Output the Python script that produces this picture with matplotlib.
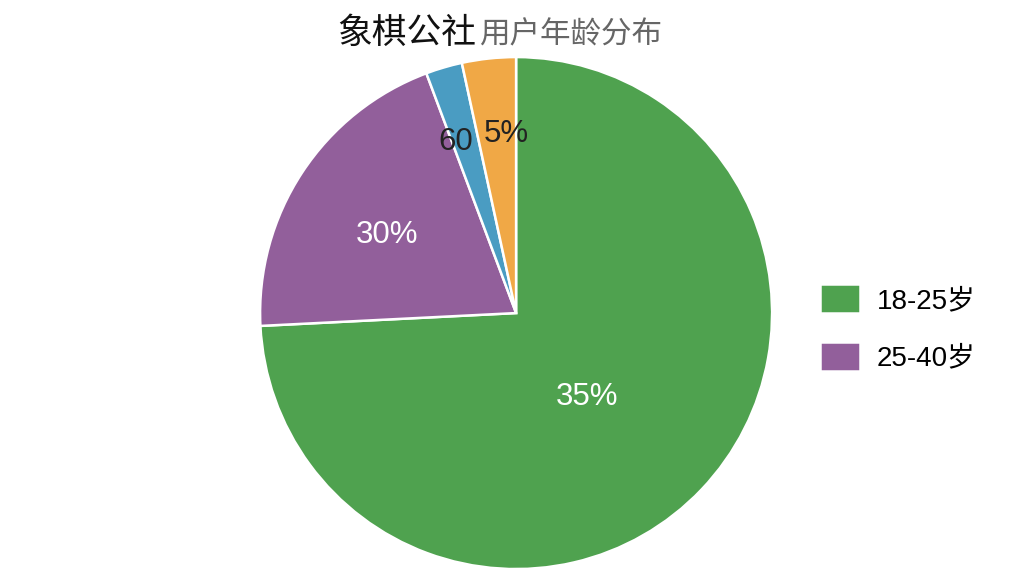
import matplotlib.pyplot as plt
import numpy as np

plt.rcParams['font.family'] = ['Liberation Sans', 'Noto Sans CJK SC']

# Data (slice sizes, labels as printed on it)
groups = ["18-25岁", "25-40岁", "40-60岁", "60岁以上"]
shares = [74.2, 20.1, 2.3, 3.4]
slice_labels = ["35%", "30%", "60", "5%"]
colors = ["#4fa24f", "#925f9b", "#4a9cc2", "#f0a846"]
label_colors = ["white", "white", "#222222", "#222222"]
label_dist = [0.43, 0.59, 0.71, 0.70]
label_shift = [-6, 2, 3, -3]   # small angular nudges, degrees

fig = plt.figure(figsize=(10.24, 5.76), dpi=100)
ax = fig.add_axes([0.254, 0.012, 0.5, 0.889])

wedges, _ = ax.pie(shares, colors=colors, startangle=90, counterclock=False,
                   wedgeprops=dict(edgecolor="white", linewidth=1.8))
ax.set_xlim(-1, 1)
ax.set_ylim(-1, 1)
ax.set_aspect("equal")

for w, txt, c, d, s in zip(wedges, slice_labels, label_colors, label_dist, label_shift):
    ang = np.deg2rad((w.theta1 + w.theta2) / 2 + s)
    ax.text(d * np.cos(ang), d * np.sin(ang), txt, color=c, fontsize=22.5,
            ha="center", va="center")

# Title in two tones
fig.text(337 / 1024, 1 - 43 / 576, "象棋公社", fontsize=25, color="#111111",
         ha="left", va="baseline", family="Noto Sans CJK SC")
fig.text(479 / 1024, 1 - 43 / 576, "用户年龄分布", fontsize=22, color="#666666",
         ha="left", va="baseline", family="Noto Sans CJK SC")

# Legend shows only the first two groups
leg = fig.legend(wedges[:2], groups[:2], loc="center left",
                 bbox_to_anchor=(0.776, 0.431), frameon=False, fontsize=20,
                 handlelength=1.45, handleheight=1.25, labelspacing=1.0,
                 handletextpad=0.6)

fig.savefig("out.png", dpi=100)
